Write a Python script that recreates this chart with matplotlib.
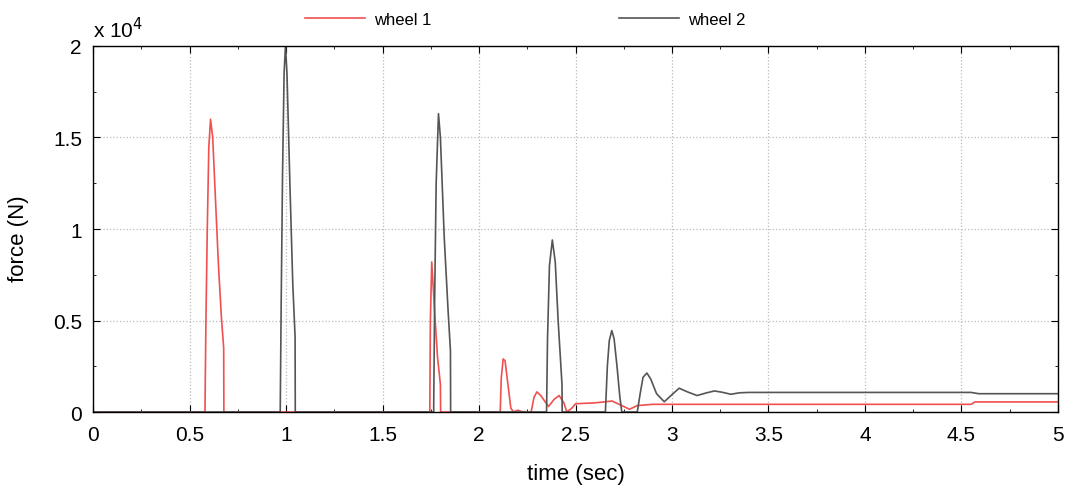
import matplotlib
matplotlib.use("Agg")
import matplotlib.pyplot as plt
from matplotlib.ticker import MultipleLocator, FuncFormatter

plt.rcParams['font.family'] = ['Liberation Sans', 'DejaVu Sans']

# wheel 1 contact force (time in s, force in N)
t_wheel1 = [0.0, 0.58, 0.585, 0.592, 0.60, 0.609, 0.62, 0.635, 0.65, 0.665, 0.677, 0.678,
            1.745, 1.748, 1.755, 1.77, 1.785, 1.80, 1.801,
            2.11, 2.115, 2.125, 2.135, 2.15, 2.165, 2.18, 2.20, 2.23, 2.27, 2.285, 2.30,
            2.32, 2.36, 2.39, 2.415, 2.44, 2.455, 2.48, 2.50, 2.60, 2.69, 2.74, 2.78,
            2.82, 2.90, 4.55, 4.57, 5.0]
f_wheel1 = [0, 0, 5000, 10000, 14500, 16000, 15000, 11500, 8000, 5200, 3500, 0,
            0, 5000, 8200, 5500, 3000, 1500, 0,
            0, 1800, 2900, 2800, 1500, 200, 0, 100, 0, 0, 800, 1100,
            900, 300, 700, 900, 500, 0, 200, 450, 500, 600, 350, 150,
            350, 420, 420, 550, 550]

# wheel 2 contact force (time in s, force in N)
t_wheel2 = [0.0, 0.97, 0.975, 0.982, 0.99, 0.997, 1.005, 1.02, 1.035, 1.047, 1.048,
            1.765, 1.77, 1.778, 1.79, 1.80, 1.82, 1.84, 1.852, 1.853,
            2.35, 2.355, 2.365, 2.38, 2.395, 2.41, 2.43, 2.431,
            2.655, 2.665, 2.675, 2.688, 2.70, 2.715, 2.73, 2.74, 2.82, 2.835, 2.85,
            2.87, 2.89, 2.92, 2.96, 3.0, 3.037, 3.08, 3.13, 3.18, 3.22, 3.26, 3.305,
            3.35, 3.40, 4.55, 4.59, 5.0]
f_wheel2 = [0, 0, 6000, 13000, 18500, 20000, 18500, 12500, 7000, 4100, 0,
            0, 6000, 12500, 16300, 15000, 9500, 5500, 3350, 0,
            0, 4000, 8000, 9400, 8200, 5000, 1500, 0,
            0, 2500, 3900, 4450, 4000, 2500, 800, 0, 0, 1000, 1900,
            2130, 1800, 1000, 560, 950, 1300, 1100, 900, 1050, 1150, 1080, 970,
            1050, 1070, 1070, 1000, 1000]

x_ticks = [0, 0.5, 1, 1.5, 2, 2.5, 3, 3.5, 4, 4.5, 5]

fig = plt.figure(figsize=(10.73, 4.89), dpi=100)
ax = fig.add_axes([0.0867, 0.1554, 0.8993, 0.7485])

ax.plot(t_wheel1, f_wheel1, color='#f05050', lw=1.2, label='wheel 1')
ax.plot(t_wheel2, f_wheel2, color='#555555', lw=1.2, label='wheel 2')

ax.set_xlim(0, 5)
ax.set_ylim(0, 20000)
ax.set_xticks(x_ticks)
ax.xaxis.set_minor_locator(MultipleLocator(0.25))
ax.yaxis.set_major_locator(MultipleLocator(5000))
ax.yaxis.set_minor_locator(MultipleLocator(2500))
ax.xaxis.set_major_formatter(FuncFormatter(lambda v, p: f'{v:g}'))
ax.yaxis.set_major_formatter(FuncFormatter(lambda v, p: f'{v / 1e4:g}'))

ax.tick_params(which='both', direction='in', top=True, right=True, labelsize=15, colors='black')
ax.tick_params(which='major', length=5)
ax.tick_params(which='minor', length=2.5)
ax.tick_params(axis='x', which='major', pad=9)
ax.tick_params(axis='y', which='major', pad=8)
ax.grid(True, which='major', linestyle=':', color='#bbbbbb', lw=0.9)
for s in ax.spines.values():
    s.set_color('black')
    s.set_linewidth(1.0)

ax.set_xlabel('time (sec)', fontsize=16, labelpad=14)
ax.set_ylabel('force (N)', fontsize=16)
ax.yaxis.set_label_coords(-0.066, 0.475)
ax.text(0.0, 1.012, r'x 10$^4$', transform=ax.transAxes, fontsize=15, ha='left', va='bottom')

ax.legend(loc='center left', bbox_to_anchor=(0.220, 1.072), ncol=2, frameon=False,
          fontsize=12, handlelength=3.6, handletextpad=0.5, columnspacing=11.3,
          borderpad=0, borderaxespad=0)

fig.savefig('out.png', dpi=100)
